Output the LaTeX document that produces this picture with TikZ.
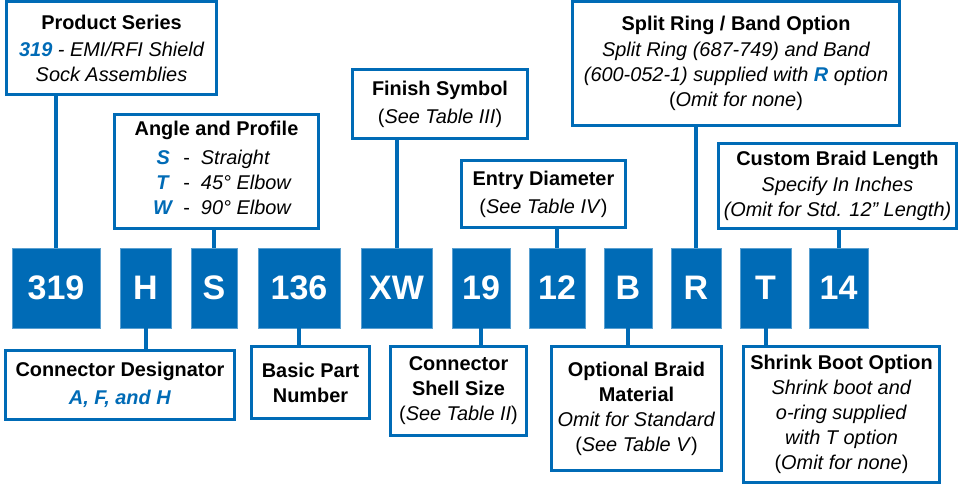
\documentclass[tikz,border=0pt]{standalone}
\usepackage{fontspec}
\setmainfont{Liberation Sans}
\usetikzlibrary{calc}
\definecolor{partblue}{RGB}{0,107,182}
\newcommand{\hl}[1]{\textcolor{partblue}{\textbf{#1}}}

\begin{document}
\begin{tikzpicture}[x=1bp, y=-1bp,
    codebox/.style={fill=partblue, draw=partblue!65!white, line width=0.8bp,
      text=white, minimum height=80bp, inner sep=0pt,
      font=\fontsize{34bp}{40bp}\selectfont\bfseries},
    infobox/.style 2 args={draw=partblue, line width=3bp, fill=white,
      align=center, inner sep=2bp, minimum width=#1, minimum height=#2,
      font=\fontsize{19.9bp}{25bp}\selectfont},
    stem/.style={draw=partblue, line width=4bp}]
\useasboundingbox (0,0) rectangle (959,485);

% part number code
\node[codebox, minimum width=88bp] (c319) at (56,288) {319};
\node[codebox, minimum width=51bp] (cH) at (145.5,288) {H};
\node[codebox, minimum width=46bp] (cS) at (214,288) {S};
\node[codebox, minimum width=82bp] (c136) at (299,288) {136};
\node[codebox, minimum width=71bp] (cXW) at (396.5,288) {XW};
\node[codebox, minimum width=58bp] (c19) at (481,288) {19};
\node[codebox, minimum width=56bp] (c12) at (557,288) {12};
\node[codebox, minimum width=48bp] (cB) at (628,288) {B};
\node[codebox, minimum width=50bp] (cR) at (696,288) {R};
\node[codebox, minimum width=51bp] (cT) at (765.5,288) {T};
\node[codebox, minimum width=59bp] (c14) at (838.5,288) {14};

% upper labels
\node[infobox={210bp}{93bp}] (series) at (111.5,48)
  {\textbf{Product Series}\\[2bp]
   \itshape\hl{319} - EMI/RFI Shield\\
   \itshape Sock Assemblies};
\node[infobox={204bp}{114bp}] (angle) at (216.5,171.5)
  {\textbf{Angle and Profile}\\[6bp]
   \begin{tabular}{@{\hspace{12bp}}c@{\hspace{10bp}}c@{\hspace{11bp}}l@{}}
   \hl{\itshape S} & - & \textit{Straight}\\
   \hl{\itshape T} & - & \textit{45° Elbow}\\
   \hl{\itshape W} & - & \textit{90° Elbow}
   \end{tabular}};
\node[infobox={175bp}{69bp}] (finish) at (440,104)
  {\textbf{Finish Symbol}\\[3bp] (\textit{See Table III})};
\node[infobox={164bp}{67bp}] (entry) at (543.5,194)
  {\textbf{Entry Diameter}\\[3bp] (\textit{See Table IV})};
\node[infobox={327bp}{124bp}] (split) at (736,63.5)
  {\textbf{Split Ring / Band Option}\\[1bp]
   \itshape Split Ring (687-749) and Band\\
   \itshape (600-052-1) supplied with \hl{R} option\\
   (\textit{Omit for none})};
\node[infobox={238bp}{85bp}] (length) at (837.5,186)
  {\textbf{Custom Braid Length}\\[1bp]
   \itshape Specify In Inches\\
   \itshape (Omit for Std. 12\symbol{34} Length)};

% lower labels
\node[infobox={229bp}{69bp}] (designator) at (120,385)
  {\textbf{Connector Designator}\\[3bp] \hl{\itshape A, F, and H}};
\node[infobox={118bp}{72bp}] (basic) at (310.5,382.5)
  {\textbf{Basic Part}\\ \textbf{Number}};
\node[infobox={136bp}{89bp}] (shell) at (458.5,391)
  {\textbf{Connector}\\ \textbf{Shell Size}\\ (\textit{See Table II})};
\node[infobox={170bp}{124bp}] (braid) at (636.5,408.5)
  {\textbf{Optional Braid}\\ \textbf{Material}\\
   \textit{Omit for Standard}\\ (\textit{See Table V})};
\node[infobox={196bp}{136bp}] (boot) at (841.5,414.5)
  {\textbf{Shrink Boot Option}\\
   \textit{Shrink boot and}\\ \textit{o-ring supplied}\\
   \textit{with T option}\\ (\textit{Omit for none})};

% stems
\draw[stem] (c319.north) -- (c319.north |- series.south);
\draw[stem] (cS.north) -- (cS.north |- angle.south);
\draw[stem] (cXW.north) -- (cXW.north |- finish.south);
\draw[stem] (c12.north) -- (c12.north |- entry.south);
\draw[stem] (cR.north) -- (cR.north |- split.south);
\draw[stem] (c14.north) -- (c14.north |- length.south);
\draw[stem] (cH.south) -- (cH.south |- designator.north);
\draw[stem] (c136.south) -- (c136.south |- basic.north);
\draw[stem] (c19.south) -- (c19.south |- shell.north);
\draw[stem] (cB.south) -- (cB.south |- braid.north);
\draw[stem] (cT.south) -- (cT.south |- boot.north);
\end{tikzpicture}
\end{document}
